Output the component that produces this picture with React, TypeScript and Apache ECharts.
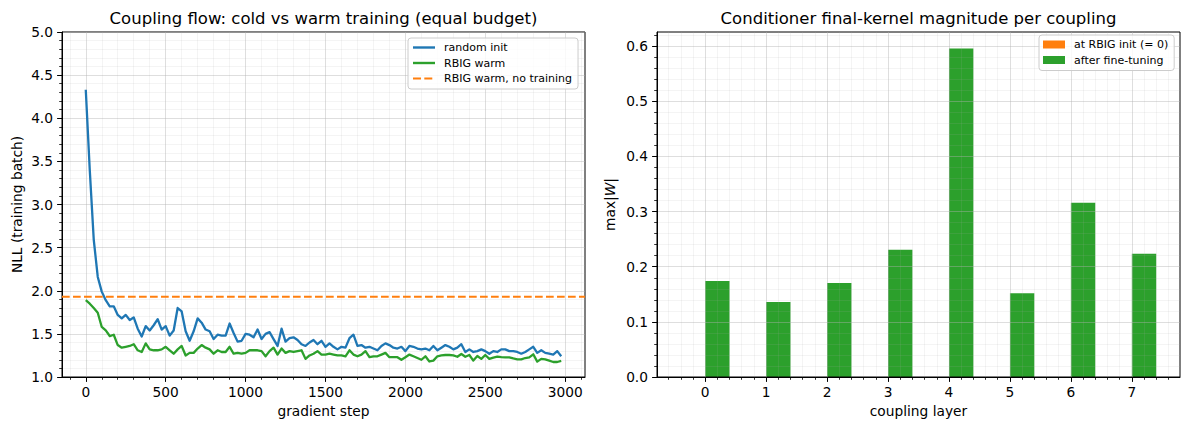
import React, { useEffect, useRef } from 'react';
import * as echarts from 'echarts';

// ---------------- data ----------------
const steps = [
  0, 25, 50, 75, 100, 125, 150, 175, 200, 225,
  250, 275, 300, 325, 350, 375, 400, 425, 450, 475,
  500, 525, 550, 575, 600, 625, 650, 675, 700, 725,
  750, 775, 800, 825, 850, 875, 900, 925, 950, 975,
  1000, 1025, 1050, 1075, 1100, 1125, 1150, 1175, 1200, 1225,
  1250, 1275, 1300, 1325, 1350, 1375, 1400, 1425, 1450, 1475,
  1500, 1525, 1550, 1575, 1600, 1625, 1650, 1675, 1700, 1725,
  1750, 1775, 1800, 1825, 1850, 1875, 1900, 1925, 1950, 1975,
  2000, 2025, 2050, 2075, 2100, 2125, 2150, 2175, 2200, 2225,
  2250, 2275, 2300, 2325, 2350, 2375, 2400, 2425, 2450, 2475,
  2500, 2525, 2550, 2575, 2600, 2625, 2650, 2675, 2700, 2725,
  2750, 2775, 2800, 2825, 2850, 2875, 2900, 2925, 2950, 2975,
];

const randomInit = [
  4.33, 3.40, 2.59, 2.16, 1.99, 1.89, 1.82, 1.82, 1.72, 1.68,
  1.72, 1.66, 1.69, 1.56, 1.47, 1.59, 1.54, 1.60, 1.67, 1.55,
  1.59, 1.48, 1.54, 1.80, 1.76, 1.53, 1.42, 1.53, 1.68, 1.63,
  1.55, 1.53, 1.44, 1.49, 1.48, 1.48, 1.62, 1.51, 1.41, 1.42,
  1.50, 1.49, 1.46, 1.55, 1.44, 1.50, 1.52, 1.44, 1.36, 1.56,
  1.41, 1.45, 1.46, 1.43, 1.38, 1.36, 1.40, 1.43, 1.38, 1.42,
  1.35, 1.39, 1.35, 1.32, 1.35, 1.34, 1.45, 1.49, 1.36, 1.37,
  1.34, 1.35, 1.33, 1.31, 1.36, 1.39, 1.37, 1.34, 1.33, 1.35,
  1.30, 1.36, 1.35, 1.33, 1.32, 1.33, 1.31, 1.36, 1.31, 1.34,
  1.37, 1.35, 1.32, 1.34, 1.38, 1.29, 1.32, 1.29, 1.30, 1.32,
  1.30, 1.27, 1.30, 1.29, 1.32, 1.32, 1.30, 1.30, 1.29, 1.27,
  1.29, 1.32, 1.35, 1.28, 1.31, 1.28, 1.27, 1.26, 1.30, 1.24,
];

const rbigWarm = [
  1.89, 1.85, 1.80, 1.745, 1.58, 1.54, 1.475, 1.49, 1.37, 1.34,
  1.35, 1.36, 1.38, 1.31, 1.29, 1.39, 1.32, 1.31, 1.31, 1.32,
  1.35, 1.31, 1.27, 1.32, 1.36, 1.25, 1.28, 1.28, 1.33, 1.37,
  1.34, 1.32, 1.27, 1.31, 1.29, 1.29, 1.35, 1.27, 1.28, 1.27,
  1.28, 1.31, 1.31, 1.31, 1.30, 1.24, 1.30, 1.34, 1.26, 1.33,
  1.28, 1.30, 1.29, 1.30, 1.31, 1.21, 1.25, 1.27, 1.30, 1.26,
  1.26, 1.27, 1.26, 1.25, 1.25, 1.24, 1.31, 1.26, 1.24, 1.26,
  1.30, 1.23, 1.24, 1.24, 1.26, 1.28, 1.23, 1.23, 1.23, 1.20,
  1.23, 1.26, 1.24, 1.22, 1.20, 1.24, 1.18, 1.19, 1.24, 1.25,
  1.255, 1.255, 1.25, 1.235, 1.267, 1.235, 1.255, 1.19, 1.243, 1.21,
  1.255, 1.21, 1.225, 1.235, 1.23, 1.228, 1.228, 1.215, 1.205, 1.205,
  1.22, 1.228, 1.263, 1.178, 1.21, 1.205, 1.19, 1.174, 1.174, 1.186,
];

const rbigNoTraining = 1.93;

const stepTicks = [0, 500, 1000, 1500, 2000, 2500, 3000];
const nllTicks = [1.0, 1.5, 2.0, 2.5, 3.0, 3.5, 4.0, 4.5, 5.0];

const layers = [0, 1, 2, 3, 4, 5, 6, 7];
const kernelAtInit = [0, 0, 0, 0, 0, 0, 0, 0];
const kernelTuned = [0.174, 0.136, 0.1705, 0.231, 0.596, 0.152, 0.316, 0.2235];
const kernelTicks = [0.0, 0.1, 0.2, 0.3, 0.4, 0.5, 0.6];

// ---------------- styling ----------------
const FONT = '"DejaVu Sans", sans-serif';
const BLUE = '#1f77b4';
const GREEN = '#2ca02c';
const ORANGE = '#ff7f0e';
const TICK_FS = 13.75;
const BAR_W = 0.4;

const ICON_SOLID = 'path://M0,0H22V2.4H0Z';
const ICON_DASHED = 'path://M0,0H8V2.1H0Z M11.3,0H19.3V2.1H11.3Z M22,0H22.01V2.1H22Z';

// axis extents with matplotlib-like 5% margins
const sMin = steps[0];
const sMax = steps[steps.length - 1];
const xLeftMin = sMin - 0.05 * (sMax - sMin);
const xLeftMax = sMax + 0.05 * (sMax - sMin);
const barLo = layers[0] - BAR_W;
const barHi = layers[layers.length - 1] + BAR_W;
const xRightMin = barLo - 0.05 * (barHi - barLo);
const xRightMax = barHi + 0.05 * (barHi - barLo);
const kMax = Math.max(...kernelTuned);
const yRightMax = kMax * 1.05;

function makeAxis(o: any) {
  return {
    type: 'value',
    gridIndex: o.grid,
    min: o.min,
    max: o.max,
    ...(o.interval ? { interval: o.interval } : {}),
    ...(o.splitNumber ? { splitNumber: o.splitNumber } : {}),
    name: o.name,
    nameLocation: 'middle',
    nameGap: o.nameGap,
    nameTextStyle: {
      fontFamily: FONT,
      fontSize: TICK_FS,
      color: '#000',
      ...(o.rich ? { rich: o.rich } : {}),
    },
    axisLine: { show: true, onZero: false, lineStyle: { color: '#000', width: 1 } },
    axisTick: {
      show: true,
      length: 4.9,
      customValues: o.ticks,
      lineStyle: { color: '#000', width: 1 },
    },
    axisLabel: {
      show: true,
      customValues: o.ticks,
      margin: o.labelMargin,
      fontFamily: FONT,
      fontSize: TICK_FS,
      color: '#000',
      formatter: o.formatter,
      showMinLabel: true,
      showMaxLabel: true,
    },
    minorTick: {
      show: true,
      splitNumber: 5,
      length: 2.8,
      lineStyle: { color: '#000', width: 0.8 },
    },
    splitLine: { show: true, lineStyle: { color: 'rgba(176,176,176,0.42)', width: 1 } },
    minorSplitLine: { show: true, lineStyle: { color: 'rgba(176,176,176,0.17)', width: 0.8 } },
  };
}

const barRender = (offset: number, color: string) => (params: any, api: any) => {
  const x = api.value(0);
  const v = api.value(1);
  const a = api.coord([x + offset, v]);
  const b = api.coord([x + offset + BAR_W, 0]);
  return {
    type: 'rect',
    shape: {
      x: a[0],
      y: Math.min(a[1], b[1]),
      width: b[0] - a[0],
      height: Math.abs(b[1] - a[1]),
    },
    style: { fill: color },
  };
};

const legendBase = {
  orient: 'vertical',
  backgroundColor: 'rgba(255,255,255,0.8)',
  borderColor: '#cccccc',
  borderWidth: 1,
  borderRadius: 3,
  itemWidth: 22,
  itemHeight: 8,
  itemGap: 4.5,
  selectedMode: false,
  textStyle: { fontFamily: FONT, fontSize: 11, color: '#000', padding: [0, 0, 0, 4] },
};

const option: any = {
  animation: false,
  backgroundColor: '#ffffff',
  graphic: [
    {
      type: 'text',
      x: 323.5,
      y: 18,
      style: {
        text: 'Coupling flow: cold vs warm training (equal budget)',
        fill: '#000',
        font: `16.5px ${FONT}`,
        align: 'center',
        verticalAlign: 'middle',
      },
    },
    {
      type: 'text',
      x: 918.5,
      y: 18,
      style: {
        text: 'Conditioner final-kernel magnitude per coupling',
        fill: '#000',
        font: `16.5px ${FONT}`,
        align: 'center',
        verticalAlign: 'middle',
      },
    },
  ],
  grid: [
    { left: 62, top: 32, width: 523, height: 345, show: true, borderColor: '#000', borderWidth: 1, outerBoundsMode: 'none', containLabel: false },
    { left: 657, top: 32, width: 523, height: 345, show: true, borderColor: '#000', borderWidth: 1, outerBoundsMode: 'none', containLabel: false },
  ],
  legend: [
    {
      ...legendBase,
      left: 408,
      top: 38,
      padding: [4, 6, 5, 5],
      data: [
        { name: 'random init', icon: ICON_SOLID },
        { name: 'RBIG warm', icon: ICON_SOLID },
        { name: 'RBIG warm, no training', icon: ICON_DASHED },
      ],
    },
    {
      ...legendBase,
      icon: 'rect',
      left: 1039,
      top: 35,
      padding: [4, 6, 5, 4],
      data: ['at RBIG init (= 0)', 'after fine-tuning'],
    },
  ],
  xAxis: [
    makeAxis({
      grid: 0,
      min: xLeftMin,
      max: xLeftMax,
      splitNumber: 6,
      ticks: stepTicks,
      name: 'gradient step',
      nameGap: 26,
      labelMargin: 8,
      formatter: (v: number) => String(Math.round(v)),
    }),
    makeAxis({
      grid: 1,
      min: xRightMin,
      max: xRightMax,
      splitNumber: 9,
      ticks: layers,
      name: 'coupling layer',
      nameGap: 26,
      labelMargin: 8,
      formatter: (v: number) => String(Math.round(v)),
    }),
  ],
  yAxis: [
    makeAxis({
      grid: 0,
      min: nllTicks[0],
      max: nllTicks[nllTicks.length - 1],
      interval: 0.5,
      ticks: nllTicks,
      name: 'NLL (training batch)',
      nameGap: 38,
      labelMargin: 9,
      formatter: (v: number) => v.toFixed(1),
    }),
    makeAxis({
      grid: 1,
      min: 0,
      max: yRightMax,
      interval: 0.1,
      ticks: kernelTicks,
      name: 'max|{w|W}|',
      nameGap: 40,
      labelMargin: 9,
      rich: { w: { fontStyle: 'italic', fontFamily: FONT, fontSize: TICK_FS, color: '#000' } },
      formatter: (v: number) => v.toFixed(1),
    }),
  ],
  series: [
    {
      name: 'random init',
      type: 'line',
      xAxisIndex: 0,
      yAxisIndex: 0,
      symbol: 'none',
      showSymbol: false,
      data: steps.map((s, i) => [s, randomInit[i]]),
      lineStyle: { color: BLUE, width: 2.3, join: 'round' },
      itemStyle: { color: BLUE },
      z: 3,
    },
    {
      name: 'RBIG warm',
      type: 'line',
      xAxisIndex: 0,
      yAxisIndex: 0,
      symbol: 'none',
      showSymbol: false,
      data: steps.map((s, i) => [s, rbigWarm[i]]),
      lineStyle: { color: GREEN, width: 2.3, join: 'round' },
      itemStyle: { color: GREEN },
      z: 3,
    },
    {
      name: 'RBIG warm, no training',
      type: 'line',
      xAxisIndex: 0,
      yAxisIndex: 0,
      symbol: 'none',
      showSymbol: false,
      data: [
        [xLeftMin, rbigNoTraining],
        [xLeftMax, rbigNoTraining],
      ],
      lineStyle: { color: ORANGE, width: 2, type: [7.7, 3.3] },
      itemStyle: { color: ORANGE },
      z: 3,
    },
    {
      name: 'at RBIG init (= 0)',
      type: 'custom',
      xAxisIndex: 1,
      yAxisIndex: 1,
      encode: { x: 0, y: 1 },
      data: layers.map((l, i) => [l, kernelAtInit[i]]),
      renderItem: barRender(-BAR_W, ORANGE),
      itemStyle: { color: ORANGE },
      z: -1,
    },
    {
      name: 'after fine-tuning',
      type: 'custom',
      xAxisIndex: 1,
      yAxisIndex: 1,
      encode: { x: 0, y: 1 },
      data: layers.map((l, i) => [l, kernelTuned[i]]),
      renderItem: barRender(0, GREEN),
      itemStyle: { color: GREEN },
      z: -1,
    },
  ],
};

export default function App() {
  const ref = useRef<HTMLDivElement>(null);
  useEffect(() => {
    if (!ref.current) return;
    const chart = echarts.init(ref.current, null, { renderer: 'svg' });
    chart.setOption(option);
    return () => {
      chart.dispose();
    };
  }, []);
  return (
    <div
      ref={ref}
      style={{ position: 'absolute', left: 0, top: 0, width: 1189, height: 430 }}
    />
  );
}
